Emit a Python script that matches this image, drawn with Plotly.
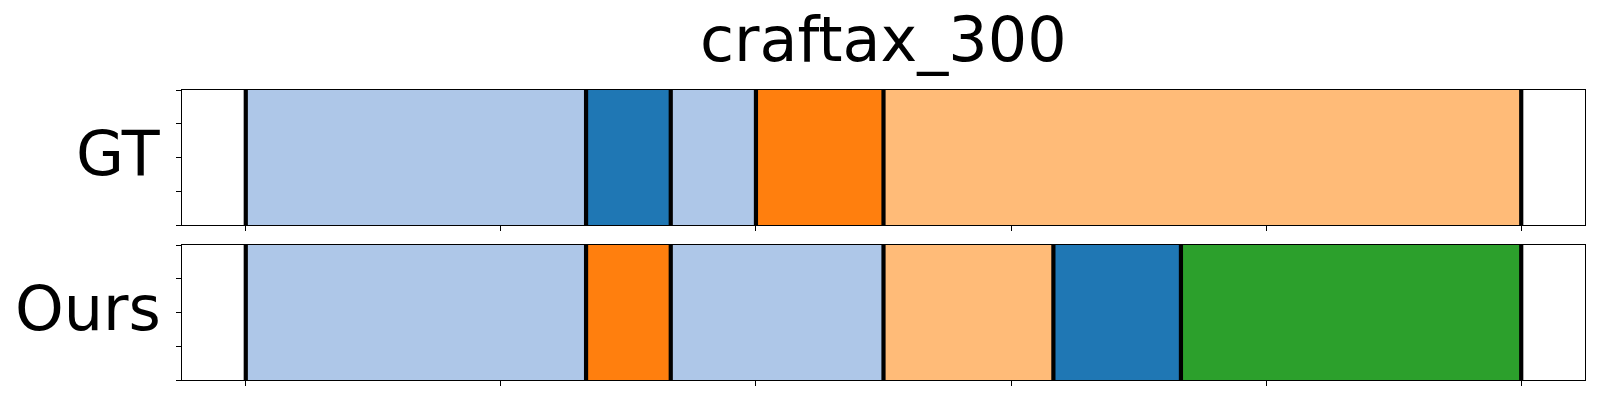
import plotly.graph_objects as go

# ---- data ----
title_text = "craftax_300"
row_labels = ["GT", "Ours"]
gt_bounds = [0, 66.7, 83.3, 100, 125, 250]
gt_colors = ["#aec7e8", "#1f77b4", "#aec7e8", "#ff7f0e", "#ffbb78"]
ours_bounds = [0, 66.7, 83.3, 125, 158.3, 183.3, 250]
ours_colors = ["#aec7e8", "#ff7f0e", "#aec7e8", "#ffbb78", "#1f77b4", "#2ca02c"]
x_ticks = [0, 50, 100, 150, 200, 250]
y_ticks = [0, 0.25, 0.5, 0.75, 1.0]

FONT = "DejaVu Sans"
fig = go.Figure()
fig.update_layout(
    width=1584, height=384,
    margin=dict(l=174, r=7, t=82, b=12),
    paper_bgcolor="white", plot_bgcolor="white",
    showlegend=False,
    font=dict(family=FONT, color="black"),
)

domains = [[0.5345, 1.0], [0.0, 0.4655]]
rows = [(gt_bounds, gt_colors), (ours_bounds, ours_colors)]
shapes = []
annotations = []
for i, (bounds, colors) in enumerate(rows):
    xa = "xaxis" if i == 0 else f"xaxis{i+1}"
    ya = "yaxis" if i == 0 else f"yaxis{i+1}"
    xr = "x" if i == 0 else f"x{i+1}"
    yr = "y" if i == 0 else f"y{i+1}"
    fig.update_layout(**{
        xa: dict(domain=[0, 1], anchor=yr, range=[-12.5, 262.5], tickvals=x_ticks,
                 showticklabels=False, ticks="outside", ticklen=5, tickwidth=1,
                 tickcolor="black", showgrid=False, zeroline=False,
                 showline=True, linecolor="black", linewidth=1.2, mirror=True),
        ya: dict(domain=domains[i], anchor=xr, range=[0, 1], tickvals=y_ticks,
                 showticklabels=False, ticks="outside", ticklen=5, tickwidth=1,
                 tickcolor="black", showgrid=False, zeroline=False,
                 showline=True, linecolor="black", linewidth=1.2, mirror=True),
    })
    fig.add_trace(go.Scatter(x=[None], y=[None], xaxis=xr, yaxis=yr, hoverinfo="skip"))
    for j, c in enumerate(colors):
        shapes.append(dict(type="rect", xref=xr, yref=yr, x0=bounds[j], x1=bounds[j + 1],
                           y0=0, y1=1, fillcolor=c, line=dict(width=0), layer="above"))
    for b in bounds:
        shapes.append(dict(type="line", xref=xr, yref=yr, x0=b, x1=b, y0=0, y1=1,
                           line=dict(color="black", width=4.2), layer="above"))
    annotations.append(dict(text=row_labels[i], xref="paper", yref="paper", x=0,
                            y=(domains[i][0] + domains[i][1]) / 2, xanchor="right",
                            yanchor="middle", xshift=-19, yshift=4, showarrow=False,
                            font=dict(family=FONT, size=62, color="black")))

annotations.append(dict(text=title_text, xref="paper", yref="paper", x=0.5, y=1,
                        xanchor="center", yanchor="bottom", yshift=12, showarrow=False,
                        font=dict(family=FONT, size=62, color="black")))
fig.update_layout(shapes=shapes, annotations=annotations)
fig.write_html("out.html")
